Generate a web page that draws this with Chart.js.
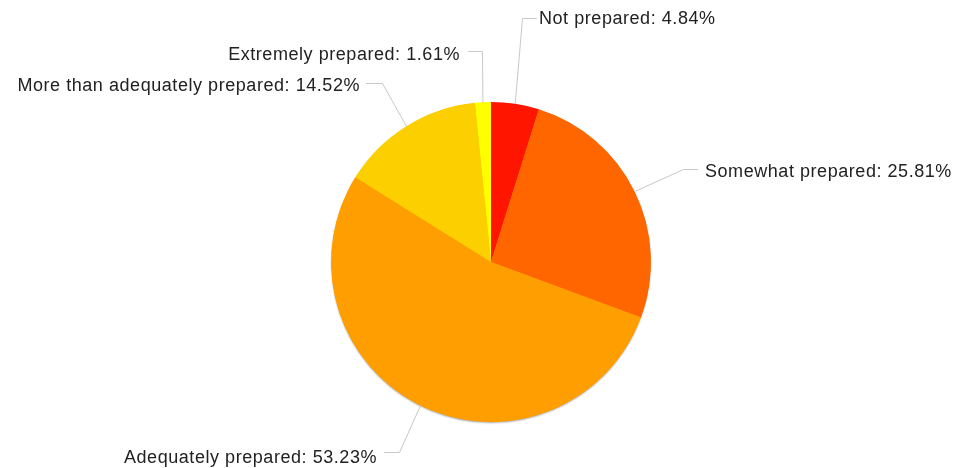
<!DOCTYPE html>
<html>
<head>
<meta charset="utf-8">
<script src="https://cdn.jsdelivr.net/npm/chart.js@4"></script>
<style>
  html, body { margin: 0; padding: 0; background: #fff; }
  #wrap { width: 958px; height: 468px; }
</style>
</head>
<body>
<div id="wrap"><canvas id="pieChart" width="958" height="468"></canvas></div>
<script>
// dane z wykresu
const labels = ["Not prepared", "Somewhat prepared", "Adequately prepared", "More than adequately prepared", "Extremely prepared"];
const values = [4.84, 25.81, 53.23, 14.52, 1.61];
const colors = ["#ff1500", "#ff6600", "#ff9e00", "#fcd000", "#ffff00"];

// gdzie stoją podpisy: łokieć linii (ex, ey), koniec linii (lx), tekst (tx, ty = linia bazowa)
const labelLayout = [
  { ex: 522, ey: 18, lx: 537, tx: 539, ty: 24, align: "left" },
  { ex: 683, ey: 169, lx: 698, tx: 705, ty: 177, align: "left" },
  { ex: 399, ey: 452, lx: 384, tx: 377, ty: 463, align: "right" },
  { ex: 382, ey: 83, lx: 366, tx: 360, ty: 91, align: "right" },
  { ex: 482, ey: 51, lx: 468, tx: 460, ty: 60, align: "right" }
];

// lekki cień pod całym kołem (rysowany raz, pod wycinkami)
const pieShadow = {
  id: "pieShadow",
  beforeDatasetsDraw(chart) {
    const arc = chart.getDatasetMeta(0).data[0];
    if (!arc) return;
    const p = arc.getProps(["x", "y", "outerRadius"], true);
    const c = chart.ctx;
    c.save();
    c.shadowColor = "rgba(0, 0, 0, 0.35)";
    c.shadowBlur = 2;
    c.shadowOffsetY = 1.5;
    c.fillStyle = "#ff9e00";
    c.beginPath();
    c.arc(p.x, p.y, p.outerRadius - 0.5, 0, Math.PI * 2);
    c.fill();
    c.restore();
  }
};

const leaderLabels = {
  id: "leaderLabels",
  afterDraw(chart) {
    const ctx = chart.ctx;
    const meta = chart.getDatasetMeta(0);
    ctx.save();
    ctx.font = "18px 'Liberation Sans', Arial, sans-serif";
    ctx.letterSpacing = "0.55px";
    ctx.textBaseline = "alphabetic";
    meta.data.forEach((arc, i) => {
      const p = arc.getProps(["x", "y", "startAngle", "endAngle", "outerRadius"], true);
      const mid = (p.startAngle + p.endAngle) / 2;
      const ax = p.x + Math.cos(mid) * p.outerRadius;
      const ay = p.y + Math.sin(mid) * p.outerRadius;
      const l = labelLayout[i];
      ctx.strokeStyle = "#c8c8c8";
      ctx.lineWidth = 1;
      ctx.beginPath();
      ctx.moveTo(ax, ay);
      ctx.lineTo(l.ex + 0.5, l.ey + 0.5);
      ctx.lineTo(l.lx, l.ey + 0.5);
      ctx.stroke();
      ctx.fillStyle = "#222";
      ctx.textAlign = l.align;
      ctx.fillText(`${labels[i]}: ${values[i].toFixed(2)}%`, l.tx, l.ty);
    });
    ctx.restore();
  }
};

const ctx = document.getElementById("pieChart").getContext("2d");
new Chart(ctx, {
  type: "pie",
  data: {
    labels: labels,
    datasets: [{
      data: values,
      backgroundColor: colors,
      borderWidth: 0
    }]
  },
  options: {
    responsive: false,
    animation: false,
    layout: { padding: { top: 102, bottom: 46, left: 331, right: 307 } },
    plugins: {
      legend: { display: false },
      tooltip: { enabled: false }
    }
  },
  plugins: [pieShadow, leaderLabels]
});
</script>
</body>
</html>
